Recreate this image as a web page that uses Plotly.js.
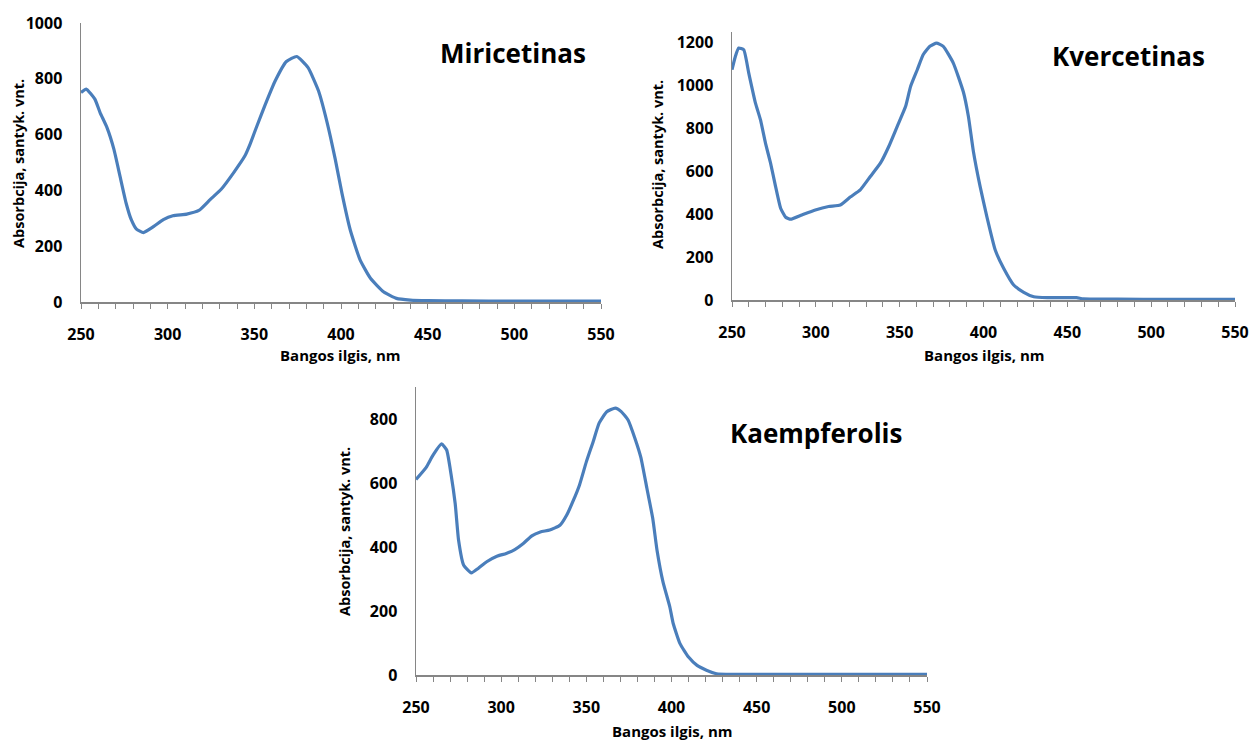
<!DOCTYPE html>
<html>
<head>
<meta charset="utf-8">
<script src="https://cdn.plot.ly/plotly-3.0.1.min.js"></script>
<style>html,body{margin:0;padding:0;background:#fff;}#chart{width:1253px;height:740px;}</style>
</head>
<body>
<div id="chart"></div>
<script>
// Wavelengths (nm) and absorbance values
const miricetinasX = [250,253,258,261,265,269,272.5,276,279,282,286,292,297.5,303,311,318,324.5,331,338,344.5,347.5,351.5,356,362,368.5,374.5,381,387,392,396.7,400.5,405.3,411,417,424.5,432,440,450,470,500,550];
const miricetinasY = [751,763,727,679,625,547,451,355,295,261,249,271,295,309,315,328,367,405,463,523,565,631,703,792,862,880,840,757,643,511,391,259,151,85,37,13,7,5,4,3,3];

const kvercetinasX = [250,252,254,257,260,264,267,270,273,276,279,282,285,291.7,299.7,307.6,314.6,320.5,326.5,332.5,338.5,343.5,348.5,353.5,356.5,360.5,364,368,372,376,382,388,391,394,398,402,407,412,418,424,430,438,446,455.5,459.5,480,510,550];
const kvercetinasY = [1074,1136,1175,1167,1058,918,840,731,638,529,428,386,377,397,420,436,443,480,514,576,638,716,809,902,996,1074,1144,1183,1198,1183,1105,970,856,692,529,389,233,148,70,36,15,11,11,11,5,4,3,3];

const kaempferolisX = [250,256,260,265,268,270.5,273,275,278,282.5,286.5,291.5,297.5,303,308,313,318,323,328.5,334.5,338.5,342.5,346,350,354,357.5,362,367,370.5,374.5,378.5,382,385.5,389,391.5,395,399,401,405,410,415,420.5,426.5,436,460,500,550];
const kaempferolisY = [611,649,687,722,703,630,536,421,343,319,333,354,371,380,392,411,435,447,453,468,500,547,594,666,729,787,823,834,823,797,740,680,585,489,390,291,213,161,98,56,30,15,4,2,2,2,2];

const xTickVals = [250,300,350,400,450,500,550];
const titles = ['Miricetinas','Kvercetinas','Kaempferolis'];
const xTitle = 'Bangos ilgis, nm';
const yTitle = 'Absorbcija, santyk. vnt.';

const FONT = '"Open Sans", Lato, sans-serif';
const W = 1253, H = 740;
const px = v => v / W;
const py = v => 1 - v / H;
const lineColor = '#4A7EBB';

function trace(x, y, xa, ya) {
  return {x: x, y: y, xaxis: xa, yaxis: ya, type: 'scatter', mode: 'lines',
    line: {color: lineColor, width: 3.2, shape: 'spline', smoothing: 0.45},
    hoverinfo: 'skip', showlegend: false};
}

function xaxis(domain, anchor) {
  return {domain: domain, anchor: anchor, range: [250, 550], tickvals: xTickVals,
    showgrid: false, zeroline: false, showline: true, linecolor: '#868686', linewidth: 1.5,
    ticks: 'outside', ticklen: 5, tickcolor: '#868686', tickwidth: 1,
    minor: {dtick: 10, tick0: 250, ticks: 'outside', ticklen: 5, tickcolor: '#868686', tickwidth: 1, showgrid: false},
    tickfont: {family: FONT, size: 16, color: '#000', weight: 'bold'},
    ticklabelstandoff: 12, fixedrange: true};
}

function yaxis(domain, anchor, max, dtick) {
  return {domain: domain, anchor: anchor, range: [0, max], dtick: dtick, tick0: 0,
    showgrid: false, zeroline: false, showline: true, linecolor: '#868686', linewidth: 1.5,
    ticks: '', tickfont: {family: FONT, size: 16, color: '#000', weight: 'bold'},
    ticklabelstandoff: 14, fixedrange: true};
}

function ann(text, x, y, size, angle) {
  return {text: '<b>' + text + '</b>', xref: 'paper', yref: 'paper', x: px(x), y: py(y),
    xanchor: 'center', yanchor: 'middle', showarrow: false, textangle: angle || 0,
    font: {family: FONT, size: size, color: '#000'}};
}

const data = [
  trace(miricetinasX, miricetinasY, 'x', 'y'),
  trace(kvercetinasX, kvercetinasY, 'x2', 'y2'),
  trace(kaempferolisX, kaempferolisY, 'x3', 'y3')
];

const layout = {
  width: W, height: H, margin: {l: 0, r: 0, t: 0, b: 0},
  paper_bgcolor: '#fff', plot_bgcolor: '#fff', showlegend: false,
  xaxis: xaxis([px(81), px(601)], 'y'),
  yaxis: yaxis([py(302), py(23)], 'x', 1000, 200),
  xaxis2: xaxis([px(732), px(1235)], 'y2'),
  yaxis2: yaxis([py(300), py(32)], 'x2', 1250, 200),
  xaxis3: xaxis([px(416), px(927)], 'y3'),
  yaxis3: yaxis([py(675), py(387)], 'x3', 900, 200),
  annotations: [
    ann(titles[0], 513, 53, 26),
    ann(titles[1], 1128, 56, 26),
    ann(titles[2], 816, 433, 26),
    ann(xTitle, 340, 355, 15),
    ann(xTitle, 984, 355, 15),
    ann(xTitle, 672, 731, 15),
    ann(yTitle, 19, 164, 14.5, -90),
    ann(yTitle, 657, 165, 14.5, -90),
    ann(yTitle, 344, 532, 14.5, -90)
  ]
};

Plotly.newPlot('chart', data, layout, {displayModeBar: false, staticPlot: true});
</script>
</body>
</html>
